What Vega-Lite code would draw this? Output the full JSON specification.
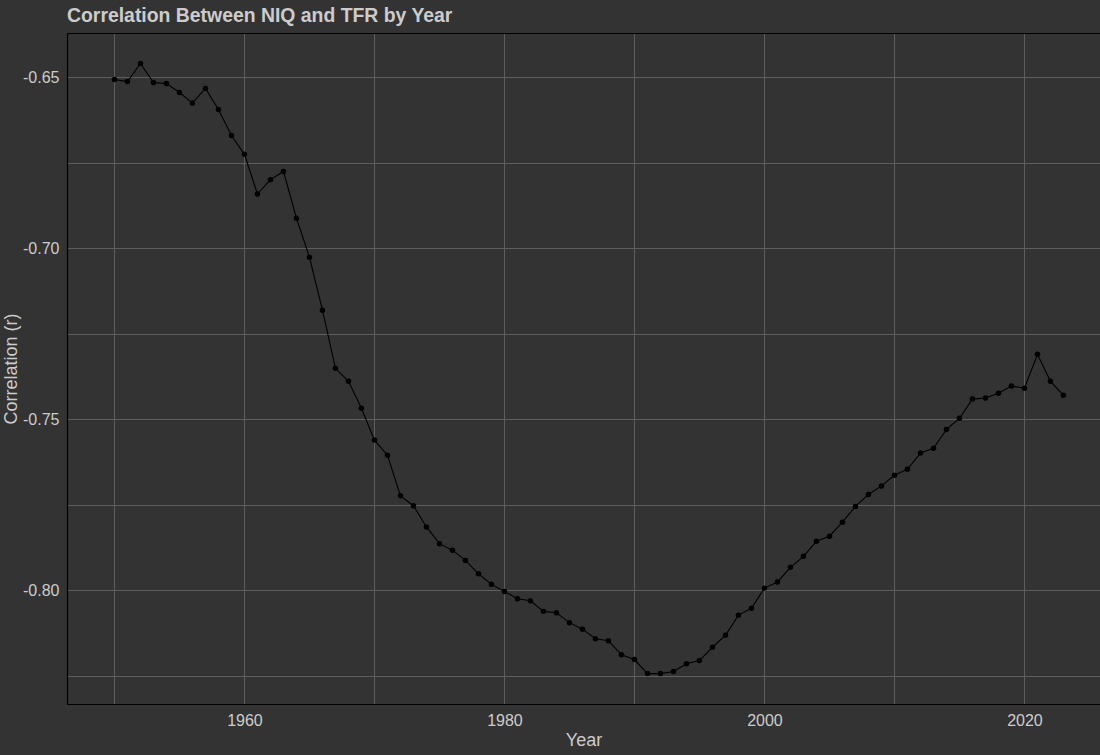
{
  "$schema": "https://vega.github.io/schema/vega-lite/v6.json",
  "autosize": "none",
  "padding": {"left": 67, "top": 33, "right": 0, "bottom": 51},
  "width": 1033,
  "height": 671,
  "background": "#333333",
  "title": {
    "text": "Correlation Between NIQ and TFR by Year",
    "anchor": "start",
    "frame": "group",
    "font": "Liberation Sans",
    "fontSize": 19.4,
    "fontWeight": "bold",
    "color": "#cccccc",
    "offset": 7
  },
  "config": {
    "view": {"stroke": null},
    "axis": {
      "labelFont": "Liberation Sans",
      "titleFont": "Liberation Sans",
      "labelColor": "#cccccc",
      "titleColor": "#cccccc",
      "labelFontSize": 16,
      "titleFontSize": 18,
      "titleFontWeight": "normal",
      "gridColor": "#5e5e5e",
      "gridWidth": 1,
      "domainColor": "#000000",
      "domainWidth": 1.2,
      "ticks": false
    }
  },
  "data": {
    "values": [
      {"year": 1950, "r": -0.6506}, {"year": 1951, "r": -0.6512}, {"year": 1952, "r": -0.6459},
      {"year": 1953, "r": -0.6515}, {"year": 1954, "r": -0.6518}, {"year": 1955, "r": -0.6544},
      {"year": 1956, "r": -0.6575}, {"year": 1957, "r": -0.6532}, {"year": 1958, "r": -0.6594},
      {"year": 1959, "r": -0.6670}, {"year": 1960, "r": -0.6725}, {"year": 1961, "r": -0.6841},
      {"year": 1962, "r": -0.6799}, {"year": 1963, "r": -0.6775}, {"year": 1964, "r": -0.6912},
      {"year": 1965, "r": -0.7026}, {"year": 1966, "r": -0.7181}, {"year": 1967, "r": -0.7351},
      {"year": 1968, "r": -0.7389}, {"year": 1969, "r": -0.7468}, {"year": 1970, "r": -0.7561},
      {"year": 1971, "r": -0.7605}, {"year": 1972, "r": -0.7724}, {"year": 1973, "r": -0.7753},
      {"year": 1974, "r": -0.7815}, {"year": 1975, "r": -0.7864}, {"year": 1976, "r": -0.7883},
      {"year": 1977, "r": -0.7913}, {"year": 1978, "r": -0.7952}, {"year": 1979, "r": -0.7983},
      {"year": 1980, "r": -0.8004}, {"year": 1981, "r": -0.8025}, {"year": 1982, "r": -0.8031},
      {"year": 1983, "r": -0.8062}, {"year": 1984, "r": -0.8066}, {"year": 1985, "r": -0.8095},
      {"year": 1986, "r": -0.8114}, {"year": 1987, "r": -0.8142}, {"year": 1988, "r": -0.8148},
      {"year": 1989, "r": -0.8189}, {"year": 1990, "r": -0.8203}, {"year": 1991, "r": -0.8244},
      {"year": 1992, "r": -0.8244}, {"year": 1993, "r": -0.8238}, {"year": 1994, "r": -0.8215},
      {"year": 1995, "r": -0.8206}, {"year": 1996, "r": -0.8167}, {"year": 1997, "r": -0.8132},
      {"year": 1998, "r": -0.8073}, {"year": 1999, "r": -0.8053}, {"year": 2000, "r": -0.7994},
      {"year": 2001, "r": -0.7976}, {"year": 2002, "r": -0.7933}, {"year": 2003, "r": -0.7901},
      {"year": 2004, "r": -0.7857}, {"year": 2005, "r": -0.7842}, {"year": 2006, "r": -0.7801},
      {"year": 2007, "r": -0.7755}, {"year": 2008, "r": -0.7720}, {"year": 2009, "r": -0.7695},
      {"year": 2010, "r": -0.7664}, {"year": 2011, "r": -0.7646}, {"year": 2012, "r": -0.7599},
      {"year": 2013, "r": -0.7585}, {"year": 2014, "r": -0.7530}, {"year": 2015, "r": -0.7497},
      {"year": 2016, "r": -0.7441}, {"year": 2017, "r": -0.7438}, {"year": 2018, "r": -0.7424},
      {"year": 2019, "r": -0.7403}, {"year": 2020, "r": -0.7409}, {"year": 2021, "r": -0.7310},
      {"year": 2022, "r": -0.7389}, {"year": 2023, "r": -0.7430}
    ]
  },
  "resolve": {"axis": {"x": "independent", "y": "independent"}},
  "layer": [
    {
      "mark": {"type": "line", "color": "#000000", "strokeWidth": 1.1},
      "encoding": {
        "x": {
          "field": "year", "type": "quantitative",
          "scale": {"domain": [1946.35, 2025.81], "nice": false, "zero": false},
          "axis": {
            "title": "Year",
            "values": [1950, 1960, 1970, 1980, 1990, 2000, 2010, 2020],
            "labelExpr": "datum.value % 20 == 0 ? datum.label : ''",
            "format": "d",
            "labelPadding": 8,
            "titlePadding": 3,
            "labelFlush": false
          }
        },
        "y": {
          "field": "r", "type": "quantitative",
          "scale": {"domain": [-0.8333, -0.6370], "nice": false, "zero": false},
          "axis": {
            "title": "Correlation (r)",
            "values": [-0.825, -0.8, -0.775, -0.75, -0.725, -0.7, -0.675, -0.65],
            "labelExpr": "abs(round(datum.value * 1000)) % 50 == 0 ? replace(format(datum.value, '.2f'), '\u2212', '-') : ''",
            "labelPadding": 8,
            "titlePadding": 2,
            "labelFlush": false
          }
        }
      }
    },
    {
      "mark": {"type": "point", "filled": true, "color": "#000000", "size": 30, "opacity": 1},
      "encoding": {
        "x": {
          "field": "year", "type": "quantitative",
          "axis": {"orient": "top", "title": null, "labels": false, "grid": false, "ticks": false}
        },
        "y": {"field": "r", "type": "quantitative", "axis": null}
      }
    }
  ]
}
